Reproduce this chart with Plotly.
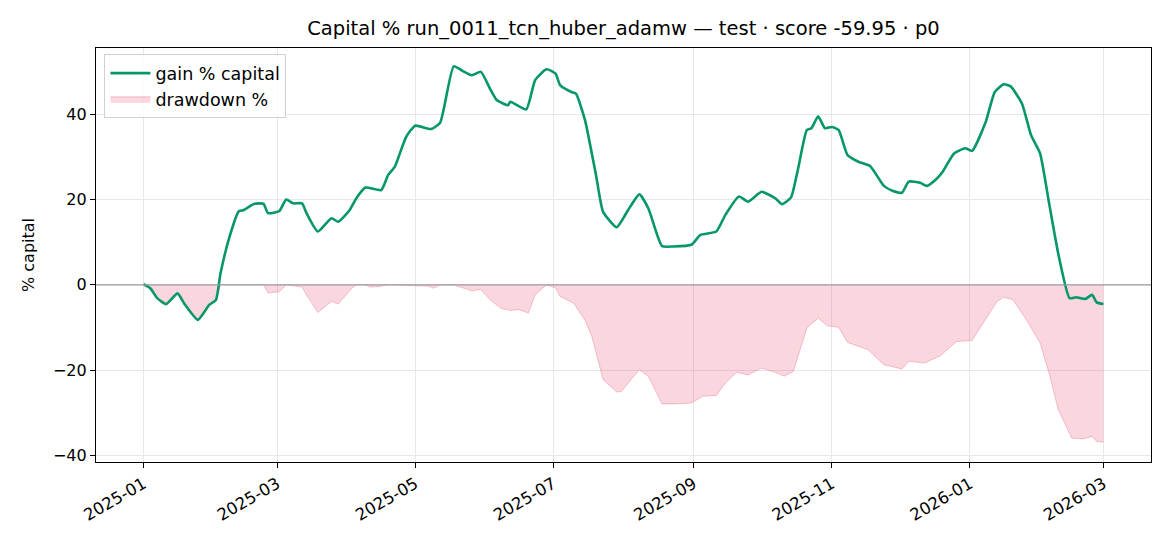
import pandas as pd
import plotly.graph_objects as go

# values
start_date = "2025-01-01"

gain_days = [0, 3, 6, 10, 15, 18, 24, 29, 32, 34, 38, 42, 44, 49, 53, 55, 60, 63, 66, 70,
             72, 77, 83, 86, 91, 94, 98, 105, 108, 111, 116, 120, 127, 131, 137, 141, 145, 149,
             153, 156, 161, 162, 169, 173, 178, 182, 184, 189, 191, 195, 200, 203, 209, 214,
             219, 223, 229, 234, 242, 246, 253, 257, 263, 267, 273, 279, 282, 286, 289, 293,
             295, 298, 301, 304, 307, 311, 316, 321, 327, 331, 335, 338, 343, 346, 350, 353,
             358, 363, 366, 372, 376, 380, 383, 388, 392, 396, 400, 404, 409, 412, 416, 419,
             421, 424]
gain_pct = [0.2, -0.8, -3.1, -4.5, -2.0, -4.4, -8.2, -4.7, -3.5, 2.7, 11.3, 17.2, 17.5, 19.0,
            19.0, 16.8, 17.3, 20.0, 19.1, 19.1, 16.8, 12.5, 15.6, 14.8, 17.5, 20.3, 22.8, 22.2,
            25.7, 27.7, 34.7, 37.3, 36.5, 38.0, 51.2, 50.1, 49.1, 49.9, 46.0, 43.3, 42.1, 42.9,
            41.1, 48.0, 50.5, 49.5, 46.8, 45.2, 44.8, 38.6, 25.3, 17.1, 13.5, 17.5, 21.2, 17.9,
            9.1, 9.0, 9.4, 11.7, 12.5, 16.4, 20.7, 19.5, 21.8, 20.3, 18.9, 20.5, 26.9, 36.3,
            36.7, 39.5, 36.7, 37.0, 36.3, 30.4, 28.8, 27.8, 23.2, 22.0, 21.6, 24.2, 23.9, 23.2,
            24.7, 26.5, 30.8, 32.0, 31.4, 38.2, 45.2, 47.0, 46.5, 42.5, 35.1, 30.8, 19.1, 7.4,
            -3.1, -2.9, -3.3, -2.3, -4.1, -4.5]

dd_days = [0, 3, 6, 10, 15, 18, 24, 29, 32, 34, 53, 55, 60, 63, 70, 72, 77, 83, 86, 92, 94,
           98, 100, 104, 108, 126, 128, 131, 137, 141, 145, 149, 153, 158, 162, 166, 170, 173,
           177, 178, 182, 184, 190, 195, 198, 203, 209, 211, 219, 223, 229, 234, 242, 247, 253,
           257, 262, 267, 273, 279, 283, 287, 293, 298, 302, 307, 311, 316, 320, 327, 335, 338,
           345, 352, 359, 366, 372, 377, 380, 384, 390, 396, 400, 404, 410, 415, 419, 421, 424]
dd_pct = [0, -0.8, -3.1, -4.5, -2.0, -4.4, -8.2, -4.7, -3.5, 0, 0, -1.9, -1.6, 0, -0.5, -2.4,
          -6.5, -3.9, -4.5, -0.8, 0, 0, -0.5, -0.4, 0, -0.3, -0.8, 0, 0, -0.7, -1.4, -1.1, -3.5,
          -5.5, -6.0, -5.8, -6.6, -2.3, -0.4, 0, -0.7, -2.7, -4.3, -8.3, -12.1, -22.2, -25.1,
          -25.0, -19.9, -21.4, -27.9, -27.9, -27.7, -26.1, -25.9, -23.0, -20.5, -21.1, -19.5,
          -20.5, -21.4, -20.3, -10.1, -7.8, -9.6, -9.9, -13.5, -14.5, -15.2, -18.7, -19.7,
          -17.9, -18.3, -16.6, -13.3, -13.0, -8.2, -3.9, -2.9, -3.5, -8.2, -13.6, -20.7, -29.2,
          -35.9, -36.1, -35.5, -36.7, -36.9]

y_ticks = [-40, -20, 0, 20, 40]

t0 = pd.Timestamp(start_date)
gain_dates = [t0 + pd.Timedelta(days=d) for d in gain_days]
dd_dates = [t0 + pd.Timedelta(days=d) for d in dd_days]

FONT = "DejaVu Sans"

fig = go.Figure()

# drawdown area
fig.add_trace(go.Scatter(
    x=dd_dates, y=dd_pct,
    name="drawdown %",
    mode="lines",
    fill="tozeroy",
    fillcolor="rgba(225,29,72,0.18)",
    line=dict(color="rgba(225,29,72,0.24)", width=1),
))

# gain line
fig.add_trace(go.Scatter(
    x=gain_dates, y=gain_pct,
    name="gain % capital",
    mode="lines",
    line=dict(color="#059669", width=2.6, shape="spline", smoothing=0.5),
))

# zero line
fig.add_hline(y=0, line=dict(color="#9c9aa6", width=1.2), layer="above")

fig.update_layout(
    width=1170, height=546,
    margin=dict(l=96, r=19, t=48, b=84),
    paper_bgcolor="white",
    plot_bgcolor="white",
    font=dict(family=FONT, size=16, color="black"),
    title=dict(
        text="Capital % run_0011_tcn_huber_adamw — test · score -59.95 · p0",
        x=0.5, xref="paper", xanchor="center",
        y=1 - 28 / 546, yref="container", yanchor="middle",
        font=dict(family=FONT, size=19.5, color="black"),
    ),
    legend=dict(
        x=0.008, y=0.985, xanchor="left", yanchor="top",
        bgcolor="rgba(255,255,255,0.8)",
        bordercolor="#d0d0d0", borderwidth=1,
        font=dict(family=FONT, size=17.5),
        traceorder="reversed",
        itemwidth=40,
    ),
    showlegend=True,
)

fig.update_xaxes(
    type="date",
    range=["2024-12-11", "2026-03-22"],
    tick0="2025-01-01", dtick="M2", tickformat="%Y-%m",
    tickangle=-30,
    ticks="outside", ticklen=5, tickcolor="black",
    showgrid=True, gridcolor="#e8e8e8", gridwidth=1,
    showline=True, linecolor="black", linewidth=1.2, mirror=True,
    zeroline=False, automargin=False,
    tickfont=dict(family=FONT, size=16.5),
)

fig.update_yaxes(
    range=[-41.5, 55.5],
    tickvals=y_ticks,
    ticks="outside", ticklen=5, tickcolor="black",
    showgrid=True, gridcolor="#e8e8e8", gridwidth=1,
    showline=True, linecolor="black", linewidth=1.2, mirror=True,
    zeroline=False, automargin=False,
    title=dict(text="% capital", standoff=14, font=dict(family=FONT, size=16)),
    tickfont=dict(family=FONT, size=16),
)

# remove the default page margin so the figure sits at the window's corner
fig.write_html(
    "out.html",
    config={"displayModeBar": False},
    post_script="document.body.style.margin='0px';",
)
